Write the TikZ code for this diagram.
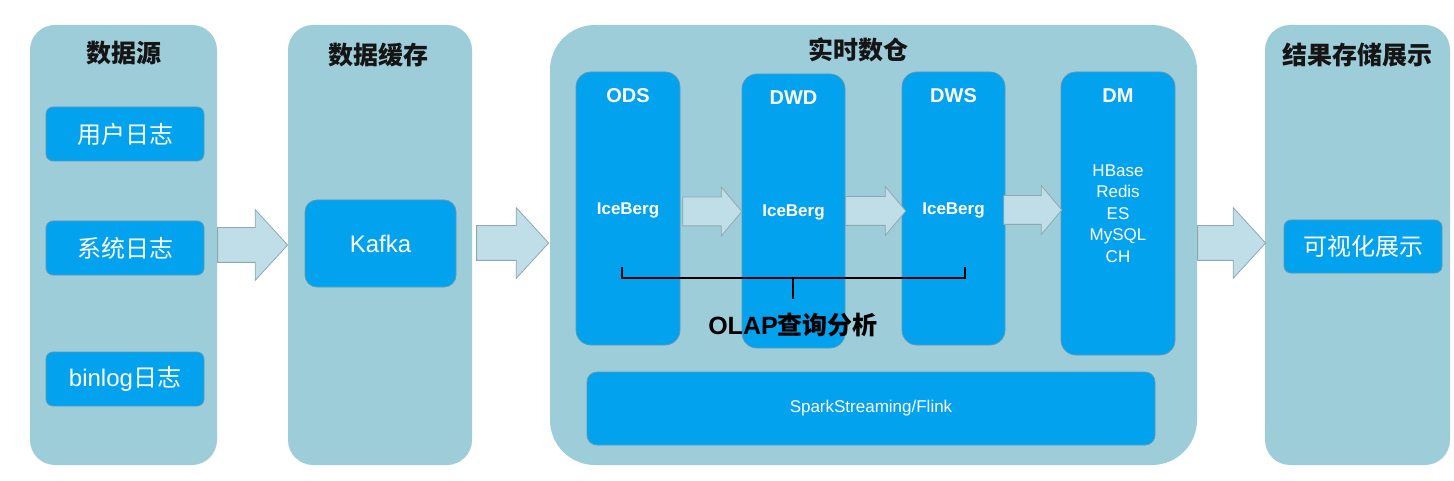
\documentclass[tikz,border=0pt]{standalone}
\usepackage{fontspec}
\setmainfont{Liberation Sans}
\newfontfamily\cjk{Noto Sans CJK SC}
\usetikzlibrary{shapes.arrows,calc}
\definecolor{panelc}{HTML}{9ECDDA}
\definecolor{boxblue}{HTML}{02A2EE}
\definecolor{boxline}{HTML}{5A9BB8}
\definecolor{arrfill}{HTML}{C0DEE7}
\definecolor{arrline}{HTML}{8FA8AF}
\definecolor{titlec}{HTML}{151515}
\begin{document}
\begin{tikzpicture}[x=1pt,y=-1pt,
  panelbox/.style={fill=panelc, rounded corners=25pt, inner sep=0pt},
  bluebox/.style={fill=boxblue, draw=boxline, line width=0.8pt, rounded corners=7pt, inner sep=0pt, text=white},
  colbox/.style={bluebox, rounded corners=15pt},
  ptitle/.style={text=titlec, font=\cjk\bfseries\fontsize{25}{25}\selectfont, inner sep=0pt},
  cjklabel/.style={font=\cjk\fontsize{24}{24}\selectfont},
  coltitle/.style={text=white, font=\bfseries\fontsize{20}{20}\selectfont, inner sep=0pt},
  icelabel/.style={text=white, font=\bfseries\fontsize{17}{17}\selectfont, inner sep=0pt},
  bigarr/.style={single arrow, anchor=tail, fill=arrfill, draw=arrline, line width=0.8pt, inner xsep=0pt,
    inner ysep=17pt, single arrow head extend=18pt, single arrow tip angle=95},
  smallarr/.style={bigarr, inner ysep=14pt, single arrow head extend=10pt, single arrow tip angle=100}
]
\useasboundingbox (0,0) rectangle (1454,481);
\fill[white] (0,0) rectangle (1454,481);

% panels
\node[panelbox, minimum width=187pt, minimum height=440pt] (p1) at (123.5,245) {};
\node[panelbox, minimum width=184pt, minimum height=440pt] (p2) at (380,245) {};
\node[panelbox, rounded corners=45pt, minimum width=647pt, minimum height=440pt] (p3) at (873.5,245) {};
\node[panelbox, minimum width=185pt, minimum height=440pt] (p4) at (1357.5,245) {};

% titles
\node[ptitle] (t1) at (124,53) {数据源};
\node[ptitle] (t2) at (378,55) {数据缓存};
\node[ptitle] (t3) at (858,50) {实时数仓};
\node[ptitle] (t4) at (1357,55) {结果存储展示};

% panel arrows
\node[bigarr, minimum height=70pt] (a1) at (p1.east) {};
\node[bigarr, minimum height=72pt] (a2) at ($(p2.east)+(4,-2)$) {};
\node[bigarr, minimum height=68pt] (a3) at ($(p3.east)+(0,-2)$) {};

% source boxes
\node[bluebox, cjklabel, minimum width=158pt, minimum height=54pt] (s1) at (125,134) {用户日志};
\node[bluebox, cjklabel, minimum width=158pt, minimum height=54pt] (s2) at (125,248) {系统日志};
\node[bluebox, minimum width=158pt, minimum height=54pt] (s3) at (125,379)
  {\fontsize{24}{24}\selectfont binlog{\cjk 日志}};

% kafka
\node[bluebox, rounded corners=12pt, minimum width=151pt, minimum height=87pt,
  font=\fontsize{24}{24}\selectfont] (kafka) at (380.5,243.5) {Kafka};

% warehouse columns
\node[colbox, minimum width=104pt, minimum height=273pt] (ods) at (628,208.5) {};
\node[colbox, minimum width=103pt, minimum height=274pt] (dwd) at (793.5,211) {};
\node[colbox, minimum width=103pt, minimum height=273pt] (dws) at (953.5,208.5) {};
\node[colbox, minimum width=114pt, minimum height=283pt] (dm) at (1118,213.5) {};

\node[coltitle] (odsT) at ($(ods.north)+(0,24)$) {ODS};
\node[coltitle] (dwdT) at ($(dwd.north)+(0,24)$) {DWD};
\node[coltitle] (dwsT) at ($(dws.north)+(0,24)$) {DWS};
\node[coltitle] (dmT) at ($(dm.north)+(0,24)$) {DM};

\node[icelabel] (ice1) at (628,210) {IceBerg};
\node[icelabel] (ice2) at (793.5,212) {IceBerg};
\node[icelabel] (ice3) at (953.5,210) {IceBerg};

\node[text=white, align=center, inner sep=0pt,
  font=\fontsize{17}{21.5}\selectfont] (dmtxt) at (1118,213.5) {HBase\\Redis\\ES\\MySQL\\CH};

% inner arrows
\node[smallarr, minimum height=59pt] (i1) at ($(ods.east)+(2,3)$) {};
\node[smallarr, minimum height=60pt] (i2) at ($(dwd.east)+(0,0)$) {};
\node[smallarr, minimum height=58pt] (i3) at ($(dws.east)+(-2,1.5)$) {};

% OLAP bracket
\draw[line width=2.2pt, black] (622,267) -- (622,278) -- (965,278) -- (965,267);
\draw[line width=2.2pt, black] (793,278) -- (793,299);
\node[inner sep=0pt, text=black, font=\fontsize{25}{25}\selectfont] (olap) at (793,325)
  {\textbf{OLAP}{\cjk\bfseries 查询分析}};

% spark box
\node[bluebox, rounded corners=10pt, minimum width=568pt, minimum height=73pt,
  font=\fontsize{17}{17}\selectfont] (spark) at (871,408.5) {SparkStreaming/Flink};

% result box
\node[bluebox, cjklabel, minimum width=158pt, minimum height=53pt] (vis) at (1363,246.5) {可视化展示};
\end{tikzpicture}
\end{document}
